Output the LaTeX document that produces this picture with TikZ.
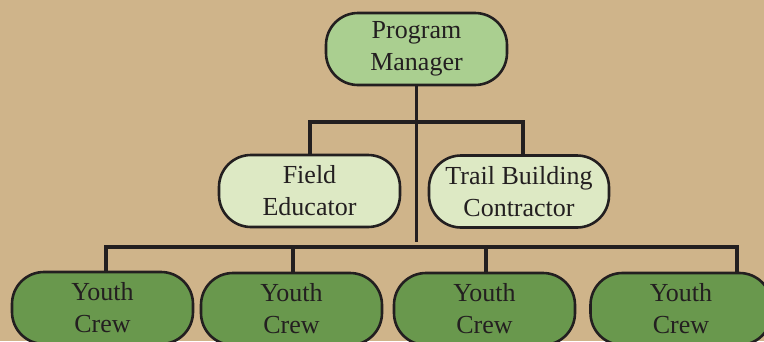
\documentclass[tikz,border=0pt]{standalone}
\usepackage{fontspec}
\setmainfont{Liberation Serif}
\definecolor{bg}{HTML}{CFB48A}
\definecolor{linec}{HTML}{231F20}
\definecolor{pmfill}{HTML}{AACF90}
\definecolor{midfill}{HTML}{DDE9C4}
\definecolor{crewfill}{HTML}{69984D}
\definecolor{txt}{HTML}{231F20}
\begin{document}
\begin{tikzpicture}[x=1pt,y=-1pt,
  orgbox/.style={draw=linec, line width=2.6pt, rounded corners=32pt,
    minimum width=181pt, minimum height=72pt, align=center, inner sep=0pt,
    text=txt, font=\fontsize{26}{32}\selectfont},
  conn/.style={draw=linec, line width=3.2pt, line cap=butt, line join=miter}]
\fill[bg] (0,0) rectangle (764,341);
\useasboundingbox (0,0) rectangle (764,341);
% nodes
\node[orgbox, fill=pmfill] (pm) at (416.5,49) {Program\\Manager};
\node[orgbox, fill=midfill] (fe) at (309.5,191) {Field\\Educator};
\node[orgbox, fill=midfill, minimum width=180pt] (tb) at (519,191.5) {Trail Building\\Contractor};
\node[orgbox, fill=crewfill] (c1) at (102.5,308) {Youth\\Crew};
\node[orgbox, fill=crewfill] (c2) at (291.5,309) {Youth\\Crew};
\node[orgbox, fill=crewfill] (c3) at (484.5,309) {Youth\\Crew};
\node[orgbox, fill=crewfill] (c4) at (681,309) {Youth\\Crew};
% coordinates
\coordinate (mainend) at (416.5,242);
\coordinate (upbus) at (416.5,122);
\coordinate (lowbus) at (416.5,247);
\coordinate (c4drop) at (737,273);
% connectors
\draw[conn] (pm.south) -- (mainend);
\draw[conn] ([xshift=0.5pt]fe.north) |- (upbus) -| ([xshift=4pt]tb.north);
\draw[conn] ([xshift=3.5pt]c1.north) |- (lowbus) -| (c4drop);
\draw[conn] ([xshift=1.5pt]c2.north) -- ([xshift=1.5pt]c2.north |- lowbus);
\draw[conn] ([xshift=1.5pt]c3.north) -- ([xshift=1.5pt]c3.north |- lowbus);
\end{tikzpicture}
\end{document}
